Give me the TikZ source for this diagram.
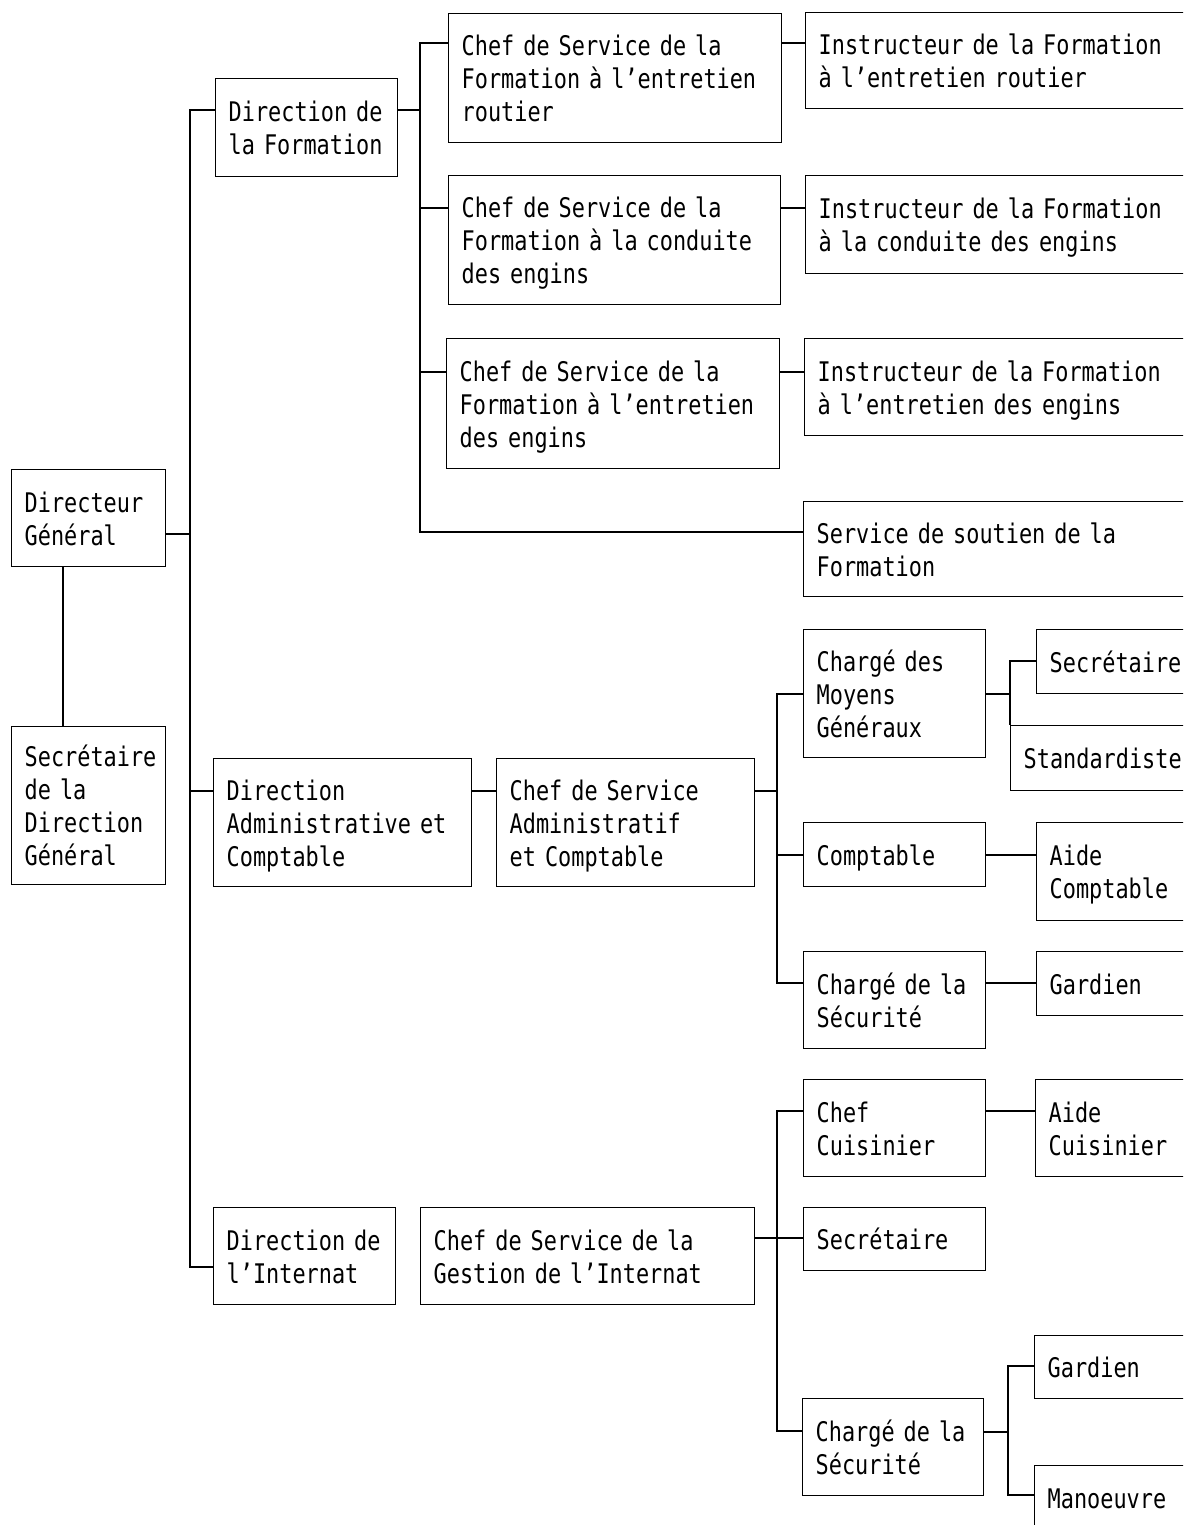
\documentclass[tikz,border=0pt]{standalone}
\usepackage{fontspec}
\setmainfont[FakeStretch=0.81]{DejaVu Sans Mono}
\newcommand{\boxlines}[1]{\raisebox{-4pt}[\height][\depth]{\begin{tabular}{@{}l@{}}#1\end{tabular}}}
\begin{document}
\begin{tikzpicture}[x=1pt,y=-1pt,
  font=\fontsize{27}{33}\selectfont,
  box/.style={draw, line width=1.4pt, anchor=north west, inner xsep=13pt, inner ysep=0pt, align=left},
  ln/.style={line width=1.5pt, line join=miter}]
\useasboundingbox (0,0) rectangle (1183,1525);
\fill[white] (0,0) rectangle (1183,1525);
\clip (0,0) rectangle (1183,1525);

% level 0
\node[box, text width=128pt, minimum height=97pt] (dg) at (11,469) {\boxlines{Directeur\\Général}};
\node[box, text width=128pt, minimum height=158pt] (sdg) at (11,726) {\boxlines{Secrétaire\\de la\\Direction\\Général}};

% Formation
\node[box, text width=156pt, minimum height=98pt] (dform) at (215,78) {\boxlines{Direction de\\la Formation}};
\node[box, text width=307pt, minimum height=129pt] (cs1) at (448,13) {\boxlines{Chef de Service de la\\Formation à l’entretien\\routier}};
\node[box, text width=306pt, minimum height=129pt] (cs2) at (448,175) {\boxlines{Chef de Service de la\\Formation à la conduite\\des engins}};
\node[box, text width=307pt, minimum height=130pt] (cs3) at (446,338) {\boxlines{Chef de Service de la\\Formation à l’entretien\\des engins}};
\node[box, text width=374pt, minimum height=96pt] (in1) at (805,12) {\boxlines{Instructeur de la Formation\\à l’entretien routier}};
\node[box, text width=374pt, minimum height=98pt] (in2) at (805,175) {\boxlines{Instructeur de la Formation\\à la conduite des engins}};
\node[box, text width=374pt, minimum height=97pt] (in3) at (804,338) {\boxlines{Instructeur de la Formation\\à l’entretien des engins}};
\node[box, text width=374pt, minimum height=95pt] (sout) at (803,501) {\boxlines{Service de soutien de la\\Formation}};

% Administration
\node[box, text width=232pt, minimum height=128pt] (dadm) at (213,758) {\boxlines{Direction\\Administrative et\\Comptable}};
\node[box, text width=232pt, minimum height=128pt] (csadm) at (496,758) {\boxlines{Chef de Service\\Administratif\\et Comptable}};
\node[box, text width=156pt, minimum height=128pt] (cmg) at (803,629) {\boxlines{Chargé des\\Moyens\\Généraux}};
\node[box, text width=174pt, minimum height=64pt] (sec1) at (1036,629) {\boxlines{Secrétaire}};
\node[box, text width=174pt, minimum height=65pt] (std) at (1010,725) {\boxlines{Standardiste}};
\node[box, text width=156pt, minimum height=64pt] (compt) at (803,822) {\boxlines{Comptable}};
\node[box, text width=174pt, minimum height=98pt] (aidec) at (1036,822) {\boxlines{Aide\\Comptable}};
\node[box, text width=156pt, minimum height=97pt] (csec1) at (803,951) {\boxlines{Chargé de la\\Sécurité}};
\node[box, text width=174pt, minimum height=64pt] (gard1) at (1036,951) {\boxlines{Gardien}};

% Internat
\node[box, text width=156pt, minimum height=97pt] (dint) at (213,1207) {\boxlines{Direction de\\l’Internat}};
\node[box, text width=308pt, minimum height=97pt] (csint) at (420,1207) {\boxlines{Chef de Service de la\\Gestion de l’Internat}};
\node[box, text width=156pt, minimum height=97pt] (cuis) at (803,1079) {\boxlines{Chef\\Cuisinier}};
\node[box, text width=174pt, minimum height=97pt] (aidecuis) at (1035,1079) {\boxlines{Aide\\Cuisinier}};
\node[box, text width=156pt, minimum height=63pt] (sec2) at (803,1207) {\boxlines{Secrétaire}};
\node[box, text width=155pt, minimum height=97pt] (csec2) at (802,1398) {\boxlines{Chargé de la\\Sécurité}};
\node[box, text width=174pt, minimum height=63pt] (gard2) at (1034,1335) {\boxlines{Gardien}};
\node[box, text width=174pt, minimum height=64pt] (man) at (1034,1465) {\boxlines{Manoeuvre}};

% junction coordinates
\coordinate (jf) at (190,110);
\coordinate (jd) at (190,534);
\coordinate (ja) at (190,791);
\coordinate (ji) at (190,1267);
\coordinate (k1) at (420,43);
\coordinate (kf) at (420,110);
\coordinate (k2) at (420,208);
\coordinate (k3) at (420,372);
\coordinate (ks) at (420,532);
\coordinate (a0) at (777,791);
\coordinate (a1) at (777,694);
\coordinate (a2) at (777,855);
\coordinate (a3) at (777,983);
\coordinate (b1) at (1010,661);
\coordinate (b0) at (1010,694);
\coordinate (c0) at (777,1238);
\coordinate (c1) at (777,1111);
\coordinate (c3) at (777,1431);
\coordinate (d1) at (1008,1366);
\coordinate (d0) at (1008,1432);
\coordinate (d2) at (1008,1495);

% Directeur - Secretaire
\draw[ln] ([xshift=52pt]dg.south west) -- ([xshift=52pt]sdg.north west);

% main trunk
\draw[ln] (jf -| dform.west) -- (jf) -- (ji) -- (ji -| dint.west);
\draw[ln] (jd -| dg.east) -- (jd);
\draw[ln] (ja) -- (ja -| dadm.west);

% Formation trunk
\draw[ln] (kf -| dform.east) -- (kf);
\draw[ln] (k1 -| cs1.west) -- (k1) -- (ks) -- (ks -| sout.west);
\draw[ln] (k2) -- (k2 -| cs2.west);
\draw[ln] (k3) -- (k3 -| cs3.west);
\draw[ln] (cs1.east |- k1) -- (in1.west |- k1);
\draw[ln] (cs2.east |- k2) -- (in2.west |- k2);
\draw[ln] (cs3.east |- k3) -- (in3.west |- k3);

% Administration
\draw[ln] (dadm.east |- a0) -- (csadm.west |- a0);
\draw[ln] (csadm.east |- a0) -- (a0);
\draw[ln] (a1 -| cmg.west) -- (a1) -- (a3) -- (a3 -| csec1.west);
\draw[ln] (a2) -- (a2 -| compt.west);
\draw[ln] (cmg.east |- b0) -- (b0);
\draw[ln] (b1 -| sec1.west) -- (b1) -- (std.north west);
\draw[ln] (compt.east |- a2) -- (aidec.west |- a2);
\draw[ln] (csec1.east |- a3) -- (gard1.west |- a3);

% Internat
\draw[ln] (csint.east |- c0) -- (c0);
\draw[ln] (c1 -| cuis.west) -- (c1) -- (c3) -- (c3 -| csec2.west);
\draw[ln] (c0) -- (c0 -| sec2.west);
\draw[ln] (cuis.east |- c1) -- (aidecuis.west |- c1);
\draw[ln] (csec2.east |- d0) -- (d0);
\draw[ln] (d1 -| gard2.west) -- (d1) -- (d2) -- (d2 -| man.west);
\end{tikzpicture}
\end{document}
